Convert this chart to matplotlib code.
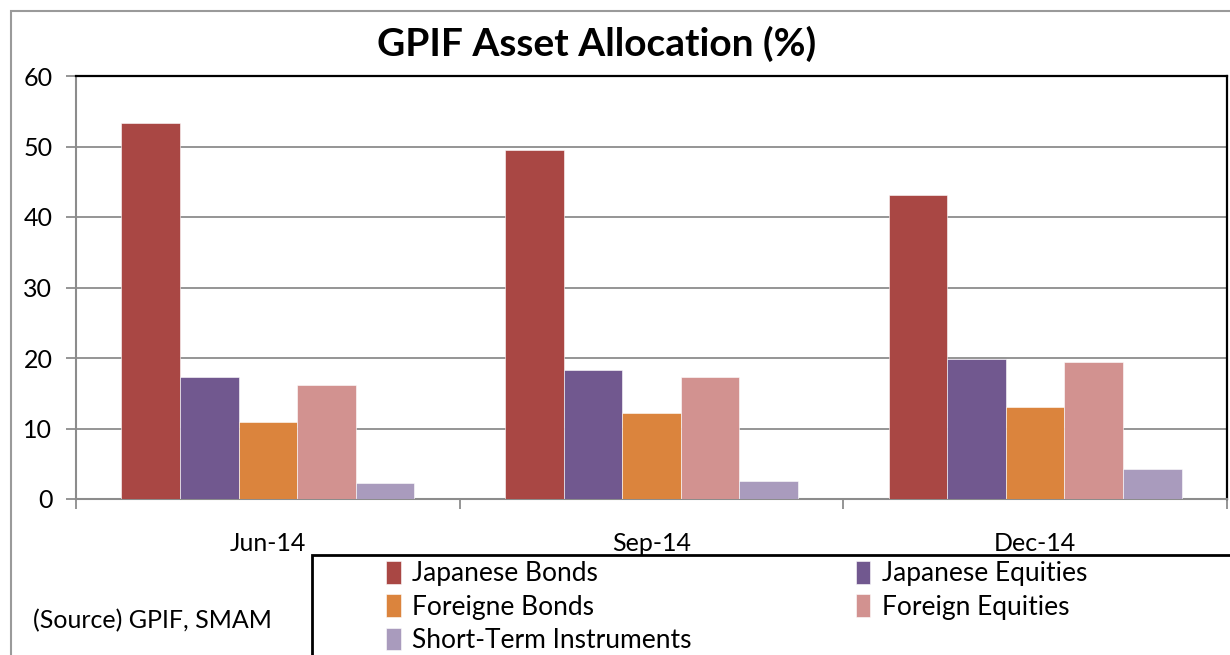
import matplotlib
matplotlib.use("Agg")
import matplotlib.pyplot as plt
from matplotlib.patches import Rectangle
import numpy as np

plt.rcParams['font.family'] = ['Lato', 'DejaVu Sans']

categories = ["Jun-14", "Sep-14", "Dec-14"]
series_names = ["Japanese Bonds", "Japanese Equities", "Foreigne Bonds",
                "Foreign Equities", "Short-Term Instruments"]
japanese_bonds = [53.4, 49.5, 43.1]
japanese_equities = [17.3, 18.3, 19.9]
foreign_bonds = [10.9, 12.2, 13.1]
foreign_equities = [16.1, 17.3, 19.5]
short_term = [2.3, 2.6, 4.2]
yticks = [0, 10, 20, 30, 40, 50, 60]

series = [japanese_bonds, japanese_equities, foreign_bonds, foreign_equities, short_term]
colors = ["#A94744", "#71588F", "#DB843D", "#D29290", "#A99BBD"]

FS = 18
W, H = 1230, 655
fig = plt.figure(figsize=(W / 100, H / 100), dpi=100)

# outer frame
fig.patches.append(Rectangle((11 / W, -0.1), 1.2, 1 - 11 / H + 0.1, transform=fig.transFigure,
                             fill=False, edgecolor="#9a9a9a", linewidth=1.5))

ax = fig.add_axes([76 / W, 1 - 499 / H, (1227 - 76) / W, (499 - 76) / H])

x = np.arange(len(categories))
bw = 0.1526
handles = []
for i, (vals, col, name) in enumerate(zip(series, colors, series_names)):
    b = ax.bar(x + (i - 2) * bw, vals, width=bw, color=col, edgecolor="white",
               linewidth=0.4, label=name, zorder=3)
    handles.append(b)

ax.set_xlim(-0.5, 2.5)
ax.set_ylim(0, 60)
ax.set_yticks(yticks)
ax.set_yticklabels([str(t) for t in yticks], fontsize=FS)
ax.yaxis.grid(True, color="#8c8c8c", linewidth=1.3, zorder=0)
ax.set_axisbelow(True)

ax.set_xticks(x)
ax.set_xticklabels(categories, fontsize=FS)
ax.set_xticks([-0.5, 0.5, 1.5, 2.5], minor=True)
ax.tick_params(axis='x', which='major', length=0, pad=24)
ax.tick_params(axis='x', which='minor', length=7, width=1.3, color="#8c8c8c", direction='out')
ax.tick_params(axis='y', length=7, width=1.3, color="#8c8c8c", direction='out', pad=10)

for s in ['left', 'bottom']:
    ax.spines[s].set_color("#8c8c8c")
    ax.spines[s].set_linewidth(1.5)
for s in ['top', 'right']:
    ax.spines[s].set_color("black")
    ax.spines[s].set_linewidth(1.6)

fig.text(597 / W, 1 - 44 / H, "GPIF Asset Allocation (%)", fontsize=28, fontweight='bold',
         ha='center', va='center')

# legend frame
fig.patches.append(Rectangle((312 / W, -0.1), 1.0, 0.1 + 1 - 555 / H, transform=fig.transFigure,
                             fill=False, edgecolor="black", linewidth=2))

order = [0, 2, 4, 1, 3]
leg = fig.legend([handles[i] for i in order], [series_names[i] for i in order],
                 ncol=2, loc='upper left', bbox_to_anchor=(386 / W, 1 - 561 / H),
                 frameon=False, fontsize=19, handlelength=0.55, handleheight=0.95,
                 handletextpad=0.45, columnspacing=6.2, labelspacing=0.3, borderpad=0,
                 borderaxespad=0)

fig.text(33 / W, 1 - 621 / H, "(Source) GPIF, SMAM", fontsize=FS, ha='left', va='center')

fig.savefig("out.png", dpi=100)
